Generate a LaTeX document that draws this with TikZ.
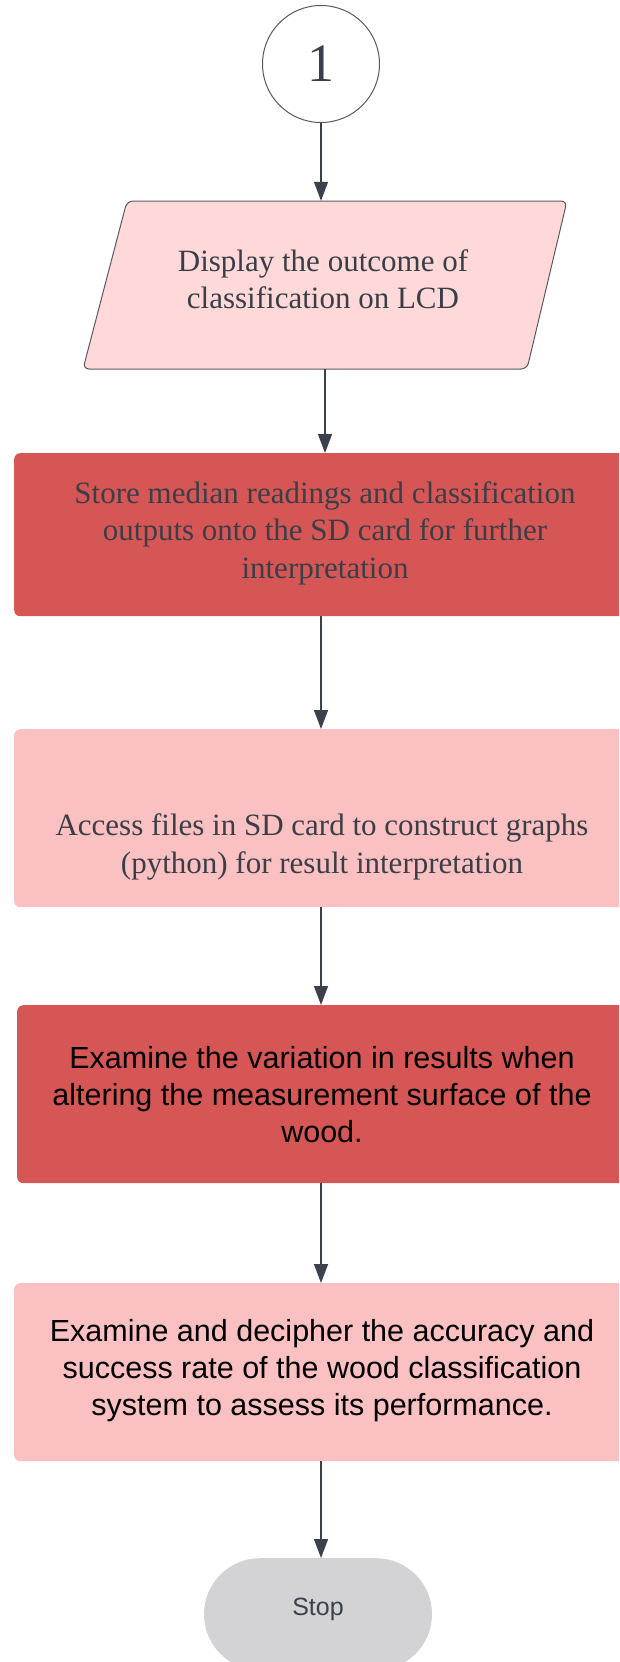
\documentclass[tikz,border=0pt]{standalone}
\usepackage{fontspec}
\setmainfont{Liberation Serif}
\setsansfont{Liberation Sans}
\usetikzlibrary{arrows.meta,positioning}
\definecolor{darkred}{HTML}{D65555}
\definecolor{lightpink}{HTML}{FBC0C1}
\definecolor{parapink}{HTML}{FFD8D9}
\definecolor{stopgray}{HTML}{D3D3D5}
\definecolor{edgegray}{HTML}{5A5A5E}
\definecolor{arrowc}{HTML}{3A414A}
\definecolor{sertext}{HTML}{3A3F47}
\tikzset{
  arr/.style={draw=arrowc, line width=1.4pt, -{Triangle[length=19pt,width=14pt]}},
  boxnode/.style={rectangle, rounded corners=6pt, minimum height=#1, inner sep=0pt},
  sertxt/.style={font=\fontsize{31}{37.5}\selectfont\rmfamily, text=sertext, align=center},
  sanstxt/.style={font=\fontsize{30.5}{37}\selectfont\sffamily, text=black, align=center},
}
\begin{document}
\begin{tikzpicture}[x=1pt,y=-1pt]
\useasboundingbox (0,0) rectangle (619,1662);
\clip (0,0) rectangle (619,1662);
% start connector
\node[circle, draw=edgegray, line width=1pt, fill=white, minimum size=117pt, inner sep=0pt,
      font=\fontsize{54}{60}\selectfont\rmfamily, text=sertext] (c1) at (321,64) {1};
% parallelogram
\draw[draw=edgegray, line width=1pt, fill=parapink, rounded corners=6pt]
  (127,201) -- (567,201) -- (527,369) -- (83,369) -- cycle;
\node[rectangle, minimum width=300pt, minimum height=168pt, inner sep=0pt] (disp) at (325,285) {};
\node[sertxt] (disptxt) at (323,279) {Display the outcome of\\classification on LCD};
% box 2
\node[boxnode=163pt, fill=darkred, minimum width=626pt, anchor=north west] (box2) at (14,453) {};
\node[sertxt] (box2txt) at (325,533) {Store median readings and classification\\outputs onto the SD card for further\\interpretation};
% box 3
\node[boxnode=178pt, fill=lightpink, minimum width=626pt, anchor=north west] (box3) at (14,729) {};
\node[sertxt] (box3txt) at (322,847) {Access files in SD card to construct graphs\\(python) for result interpretation};
% box 4
\node[boxnode=178pt, fill=darkred, minimum width=623pt, anchor=north west] (box4) at (17,1005) {};
\node[sanstxt] (box4txt) at (322,1095) {Examine the variation in results when\\altering the measurement surface of the\\wood.};
% box 5
\node[boxnode=178pt, fill=lightpink, minimum width=626pt, anchor=north west] (box5) at (14,1283) {};
\node[sanstxt] (box5txt) at (322,1371) {Examine and decipher the accuracy and\\success rate of the wood classification\\system to assess its performance.};
% stop
\node[rectangle, rounded corners=56pt, fill=stopgray, minimum width=228pt, minimum height=112pt,
      anchor=north, inner sep=0pt] (stop) at (318,1558) {};
\node[font=\fontsize{25}{30}\selectfont\sffamily, text=arrowc] (stoptxt) at (318,1609) {Stop};
% connectors
\draw[arr] (c1.south) -- (c1.south |- disp.north);
\draw[arr] (disp.south) -- (disp.south |- box2.north);
\draw[arr] (box2.south -| c1) -- (box3.north -| c1);
\draw[arr] (box3.south -| c1) -- (box4.north -| c1);
\draw[arr] (box4.south -| c1) -- (box5.north -| c1);
\draw[arr] (box5.south -| c1) -- (stop.north -| c1);
\end{tikzpicture}
\end{document}
